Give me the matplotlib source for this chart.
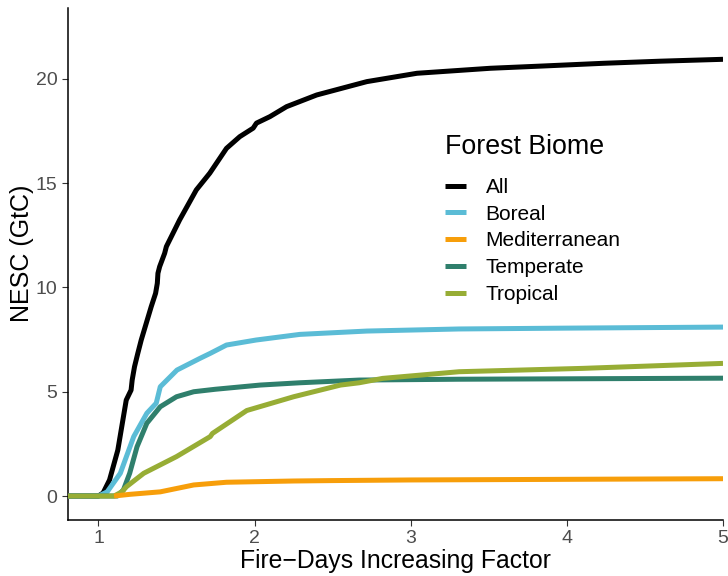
"""
NESC vs fire-days increasing factor, by forest biome.
"""

import matplotlib
matplotlib.use("Agg")
import matplotlib.pyplot as plt

plt.rcParams["font.family"] = ["Liberation Sans", "DejaVu Sans"]

# ── data ──────────────────────────────────────────────────────────────────────
all_x = [0.80, 1.00, 1.03, 1.071, 1.124, 1.178, 1.209, 1.216, 1.231, 1.252,
         1.274, 1.306, 1.338, 1.366, 1.377, 1.381, 1.392, 1.424, 1.435, 1.52,
         1.627, 1.713, 1.82, 1.905, 1.991, 2.012, 2.098, 2.205, 2.398, 2.719,
         3.04, 3.51, 3.85, 4.238, 4.6, 5.0]
all_y = [0.0, 0.0, 0.15, 0.77, 2.2, 4.6, 5.08, 5.56, 6.2, 6.84,
         7.48, 8.28, 9.08, 9.72, 10.2, 10.68, 11.0, 11.64, 11.96, 13.24,
         14.68, 15.48, 16.67, 17.23, 17.64, 17.88, 18.19, 18.67, 19.23, 19.87,
         20.27, 20.51, 20.62, 20.75, 20.85, 20.94]

boreal_x = [0.80, 1.00, 1.056, 1.14, 1.226, 1.31, 1.37, 1.38, 1.396, 1.503,
            1.65, 1.716, 1.82, 2.01, 2.29, 2.72, 3.31, 4.0, 5.0]
boreal_y = [0.0, 0.0, 0.2, 1.09, 2.85, 3.97, 4.45, 4.75, 5.24, 6.04,
            6.6, 6.84, 7.24, 7.48, 7.75, 7.91, 8.01, 8.05, 8.1]

med_x = [1.10, 1.20, 1.396, 1.61, 1.82, 2.25, 2.5, 3.0, 4.0, 5.0]
med_y = [0.0, 0.08, 0.2, 0.53, 0.66, 0.72, 0.74, 0.77, 0.80, 0.83]

temp_x = [0.80, 1.12, 1.16, 1.20, 1.247, 1.31, 1.396, 1.50, 1.61, 1.75,
          2.035, 2.29, 2.67, 3.31, 4.0, 5.0]
temp_y = [0.0, 0.0, 0.29, 1.09, 2.36, 3.49, 4.28, 4.76, 5.0, 5.12,
          5.32, 5.43, 5.56, 5.60, 5.62, 5.65]

trop_x = [0.80, 1.10, 1.15, 1.18, 1.29, 1.50, 1.716, 1.73, 1.95, 2.25,
          2.55, 2.67, 2.82, 3.31, 4.10, 5.0]
trop_y = [0.0, 0.0, 0.2, 0.45, 1.09, 1.89, 2.85, 3.0, 4.1, 4.76,
          5.32, 5.43, 5.64, 5.96, 6.12, 6.36]

biomes = ["All", "Boreal", "Mediterranean", "Temperate", "Tropical"]
colors = ["#000000", "#5BBCD6", "#F79E0A", "#2F7F6C", "#97AD35"]
x_ticks = [1, 2, 3, 4, 5]
y_ticks = [0, 5, 10, 15, 20]

# ── plot ───────────────────────────────────────────────────────────────────────
fig = plt.figure(figsize=(7.28, 5.76), dpi=100)
ax = fig.add_axes([68 / 728, 1 - 520 / 576, 655 / 728, 512 / 576])

series = [(all_x, all_y), (boreal_x, boreal_y), (med_x, med_y),
          (temp_x, temp_y), (trop_x, trop_y)]
zorders = [2, 3, 6, 4, 5]
for (xs, ys), name, col, z in zip(series, biomes, colors, zorders):
    ax.plot(xs, ys, color=col, lw=3.6, label=name, zorder=z,
            solid_capstyle="butt", solid_joinstyle="round")

ax.set_xlim(0.805, 5.0)
ax.set_ylim(-1.15, 23.4)
ax.set_xticks(x_ticks)
ax.set_yticks(y_ticks)
ax.tick_params(colors="#333333", labelcolor="#4D4D4D", labelsize=14,
               length=4, width=0.8)
for side in ["top", "right"]:
    ax.spines[side].set_visible(False)
for side in ["left", "bottom"]:
    ax.spines[side].set_linewidth(1.1)

ax.set_xlabel("Fire\u2212Days Increasing Factor", fontsize=17.8, labelpad=1)
ax.set_ylabel("NESC (GtC)", fontsize=18)
ax.yaxis.set_label_coords(-0.052, 0.52)

leg = ax.legend(loc="upper left", bbox_to_anchor=(445 / 728, 1 - 134 / 576),
                bbox_transform=fig.transFigure, frameon=False,
                title="Forest Biome", title_fontsize=19.3, fontsize=15,
                handlelength=1.0, handletextpad=0.95, labelspacing=0.37,
                borderpad=0, borderaxespad=0)
leg._legend_box.align = "left"
leg._legend_box.sep = 13
for line in leg.get_lines():
    line.set_linewidth(3.6)

fig.savefig("out.png", dpi=100)
